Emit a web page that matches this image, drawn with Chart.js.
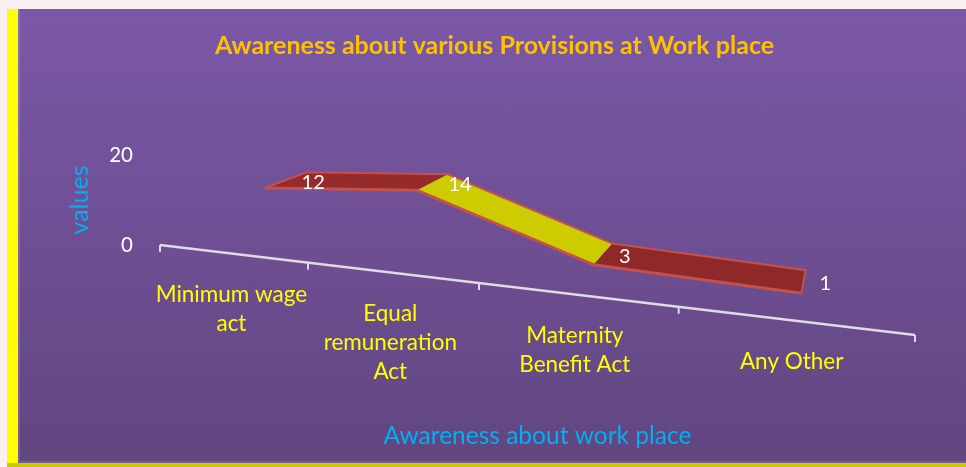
<!DOCTYPE html>
<html><head><meta charset="utf-8">
<script src="https://cdn.jsdelivr.net/npm/chart.js@4.4.1/dist/chart.umd.min.js"></script>
<style>
html,body{margin:0;padding:0;width:966px;height:467px;overflow:hidden;background:#fbf0f1;}
#frame{position:absolute;left:7px;top:9px;width:959px;height:458px;background:#ffff00;}
#frame .base{position:absolute;left:0;right:0;bottom:0;height:4px;background:#c9c900;}
#panel{position:absolute;left:18px;top:9px;width:948px;height:454px;background:linear-gradient(#7b58a7,#614680);box-shadow:inset 2px -2px 0 rgba(255,255,255,0.13);}
#wrap{position:absolute;left:0;top:0;width:966px;height:467px;}
</style></head><body>
<div id="frame"><div class="base"></div></div>
<div id="panel"></div>
<div id="wrap"><canvas id="c" width="966" height="467"></canvas></div>
<script>
// ---- data ----
const chartTitle = 'Awareness about various Provisions at Work place';
const categories = [['Minimum wage', 'act'], ['Equal', 'remuneration', 'Act'], ['Maternity', 'Benefit Act'], ['Any Other']];
const values = [12, 14, 3, 1];
const yTicks = [0, 20];
const xAxisTitle = 'Awareness about work place';
const yAxisTitle = 'values';

// ---- styles ----
const segmentFills = ['#962b2b', '#cccc00', '#8f2828'];
const edgeColor = '#c4514b';
const view = { xGain: 0.958, xShift: 43, slope: 0.082, yGain: 1.2, yShift: -60.2, vpX: 861, vpY: -37, depth: 0.07, axisSlope: 0.1192 };

class PerspectiveCategoryScale extends Chart.CategoryScale {
  getPixelForDecimal(decimal) {
    const k = this.options.perspective || 0;
    return super.getPixelForDecimal((1 + k) * decimal / (1 + k * decimal));
  }
}
PerspectiveCategoryScale.id = 'perspectiveCategory';
PerspectiveCategoryScale.defaults = {};
Chart.register(PerspectiveCategoryScale);

function proj(x, y) { return { x: view.xGain * x + view.xShift, y: view.slope * x + view.yGain * y + view.yShift }; }
function back(p) { return { x: p.x + view.depth * (view.vpX - p.x), y: p.y + view.depth * (view.vpY - p.y) }; }

const ribbonPlugin = {
  id: 'ribbon3d',
  beforeDatasetsDraw(chart) {
    const ctx = chart.ctx, xs = chart.scales.x, ys = chart.scales.y;
    const y0 = ys.getPixelForValue(0);
    const L = xs.getPixelForDecimal(0), R = xs.getPixelForDecimal(1);
    const axisY = x => y0 + view.axisSlope * (x - L);
    ctx.save();
    // slanted category axis
    ctx.strokeStyle = '#dedbe4';
    ctx.lineWidth = 2.5;
    ctx.beginPath(); ctx.moveTo(L, axisY(L)); ctx.lineTo(R, axisY(R)); ctx.stroke();
    ctx.lineWidth = 2;
    const n = chart.data.labels.length;
    for (let i = 0; i <= n; i++) {
      const tx = xs.getPixelForDecimal(i / n);
      ctx.beginPath(); ctx.moveTo(tx, axisY(tx)); ctx.lineTo(tx, axisY(tx) + 7); ctx.stroke();
    }
    // category labels
    ctx.fillStyle = '#ffff00';
    ctx.font = '22.5px Lato';
    ctx.textAlign = 'center';
    ctx.textBaseline = 'middle';
    chart.data.labels.forEach((lab, i) => {
      const cx = xs.getPixelForValue(i);
      const lines = Array.isArray(lab) ? lab : [lab];
      lines.forEach((t, k) => ctx.fillText(t, cx, axisY(cx) + 41 + 29 * k));
    });
    // ribbon faces
    const meta = chart.getDatasetMeta(0);
    const F = meta.data.map(pt => proj(pt.x, pt.y));
    const B = F.map(back);
    for (let i = 0; i < F.length - 1; i++) {
      ctx.beginPath();
      ctx.moveTo(F[i].x, F[i].y); ctx.lineTo(F[i + 1].x, F[i + 1].y);
      ctx.lineTo(B[i + 1].x, B[i + 1].y); ctx.lineTo(B[i].x, B[i].y); ctx.closePath();
      ctx.fillStyle = segmentFills[i % segmentFills.length];
      ctx.fill();
    }
    ctx.strokeStyle = edgeColor; ctx.lineWidth = 2; ctx.lineJoin = 'miter';
    ctx.beginPath();
    ctx.moveTo(F[0].x, F[0].y); ctx.lineTo(B[0].x, B[0].y);
    B.forEach((b, i) => { if (i) ctx.lineTo(b.x, b.y); });
    ctx.lineTo(F[F.length - 1].x, F[F.length - 1].y);
    ctx.stroke();
    ctx.restore();
  },
  beforeDatasetDraw(chart) {
    chart.ctx.save();
    chart.ctx.transform(view.xGain, view.slope, 0, view.yGain, view.xShift, view.yShift);
  },
  afterDatasetDraw(chart) { chart.ctx.restore(); },
  afterDatasetsDraw(chart) {
    const ctx = chart.ctx;
    const meta = chart.getDatasetMeta(0);
    const ds = chart.data.datasets[0].data;
    ctx.save();
    ctx.fillStyle = '#ffffff';
    ctx.font = '20px Lato';
    ctx.textAlign = 'left';
    ctx.textBaseline = 'middle';
    meta.data.forEach((pt, i) => {
      const f = proj(pt.x, pt.y), b = back(f);
      ctx.fillText(String(ds[i]), (f.x + b.x) / 2 + 16, (f.y + b.y) / 2 + 2);
    });
    ctx.restore();
  }
};

function build() {
  new Chart(document.getElementById('c'), {
    type: 'line',
    data: {
      labels: categories,
      datasets: [{
        label: yAxisTitle, data: values,
        borderColor: edgeColor, borderWidth: 2.5, borderJoinStyle: 'miter',
        pointRadius: 0, tension: 0, fill: false, clip: false
      }]
    },
    options: {
      responsive: false, devicePixelRatio: 1, animation: false,
      layout: { padding: { left: 74, right: 51, top: 0, bottom: 0 } },
      plugins: {
        legend: { display: false }, tooltip: { enabled: false },
        title: { display: true, text: chartTitle, color: '#ffc000',
          font: { family: 'Lato', size: 25, weight: 'bold' }, padding: { top: 31, bottom: 94 } }
      },
      scales: {
        x: {
          type: 'perspectiveCategory', perspective: -0.2684, offset: true,
          grid: { display: false, drawTicks: false }, border: { display: false },
          ticks: { display: false },
          title: { display: true, text: xAxisTitle, color: '#00b0f0', font: { family: 'Lato', size: 24.5 }, padding: { top: 0, bottom: 16 } },
          afterFit: s => { s.height = 222; }
        },
        y: {
          min: 0, max: 20,
          grid: { display: false, drawTicks: false }, border: { display: false },
          afterBuildTicks: s => { s.ticks = yTicks.map(v => ({ value: v })); },
          ticks: { color: '#ffffff', font: { family: 'Lato', size: 20.5 }, padding: 27 },
          title: { display: true, text: yAxisTitle, color: '#00b0f0', font: { family: 'Lato', size: 25, lineHeight: 0.5 }, padding: { top: 0, bottom: 0 } },
          afterFit: s => { s.width = 86; }
        }
      }
    },
    plugins: [ribbonPlugin]
  });
}
Promise.all(['20px Lato', 'bold 25px Lato', '24px Lato'].map(f => document.fonts.load(f))).then(build, build);
</script>
</body></html>
